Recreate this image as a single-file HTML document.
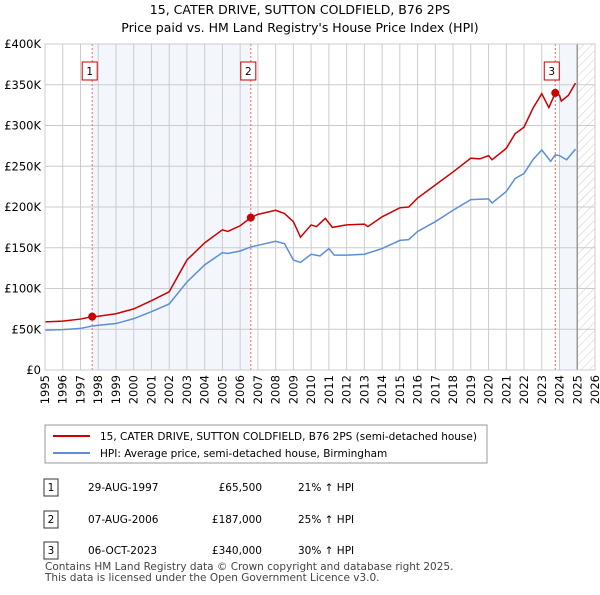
<!DOCTYPE html>
<html><head><meta charset="utf-8"><style>
body{margin:0;background:#fff;font-family:"Liberation Sans",sans-serif;}
svg text{font-family:"DejaVu Sans","Liberation Sans",sans-serif;}
</style></head><body>
<svg id="c" width="600" height="590" xmlns="http://www.w3.org/2000/svg">
<defs><pattern id="hatch" width="6" height="6" patternUnits="userSpaceOnUse" patternTransform="rotate(45)"><line x1="0" y1="0" x2="0" y2="6" stroke="#ccc" stroke-width="1"/></pattern></defs>
<text x="300" y="14" text-anchor="middle" font-size="12.5">15, CATER DRIVE, SUTTON COLDFIELD, B76 2PS</text>
<text x="300" y="32" text-anchor="middle" font-size="12.5">Price paid vs. HM Land Registry's House Price Index (HPI)</text>
<g id="plot"></g>
<g>
<rect x="45" y="425" width="442" height="38" fill="#fff" stroke="#999"/>
<line x1="53" y1="436" x2="90" y2="436" stroke="#cc0000" stroke-width="2"/>
<text x="100" y="440" font-size="10.5">15, CATER DRIVE, SUTTON COLDFIELD, B76 2PS (semi-detached house)</text>
<line x1="53" y1="453" x2="90" y2="453" stroke="#5b8fd6" stroke-width="2"/>
<text x="100" y="457" font-size="10.5">HPI: Average price, semi-detached house, Birmingham</text>
</g>
<g font-size="10.5">
<rect x="44" y="479" width="14" height="17" fill="#fff" stroke="#333"/><text x="51" y="491" text-anchor="middle">1</text>
<text x="88" y="491">29-AUG-1997</text><text x="262" y="491" text-anchor="end">£65,500</text><text x="298" y="491">21% ↑ HPI</text>
<rect x="44" y="511" width="14" height="17" fill="#fff" stroke="#333"/><text x="51" y="523" text-anchor="middle">2</text>
<text x="88" y="523">07-AUG-2006</text><text x="262" y="523" text-anchor="end">£187,000</text><text x="298" y="523">25% ↑ HPI</text>
<rect x="44" y="542" width="14" height="17" fill="#fff" stroke="#333"/><text x="51" y="554" text-anchor="middle">3</text>
<text x="88" y="554">06-OCT-2023</text><text x="262" y="554" text-anchor="end">£340,000</text><text x="298" y="554">30% ↑ HPI</text>
</g>
<text x="45" y="570" font-size="10.5" fill="#444">Contains HM Land Registry data © Crown copyright and database right 2025.</text>
<text x="45" y="581" font-size="10.5" fill="#444">This data is licensed under the Open Government Licence v3.0.</text>
</svg>
<script>
const hpiYears=[1995,1996,1997,1997.66,1998.5,1999,2000,2001,2002,2003,2004,2005,2005.3,2006,2006.6,2007,2008,2008.5,2009,2009.4,2010,2010.5,2011,2011.3,2012,2013,2014,2015,2015.5,2016,2017,2018,2019,2020,2020.2,2021,2021.5,2022,2022.5,2023,2023.5,2023.76,2024,2024.4,2024.9];
const hpiValues=[49000,49500,51000,54000,56000,57000,63000,71500,81000,108000,129000,144000,143000,146000,151000,153000,158000,155000,135000,132000,142000,140000,149000,141000,141000,142000,149000,159000,160000,170000,182000,196000,209000,210000,205000,219000,235000,241000,258000,270000,256000,264000,263000,258000,271000];
const priceYears=[1995,1996,1997,1997.66,1998,1999,2000,2001,2002,2003,2004,2005,2005.3,2006,2006.6,2007,2008,2008.5,2009,2009.4,2010,2010.3,2010.8,2011.2,2012,2013,2013.2,2014,2015,2015.5,2016,2017,2018,2019,2019.5,2020,2020.2,2021,2021.5,2022,2022.5,2023,2023.4,2023.76,2024,2024.1,2024.5,2024.9];
const priceValues=[59000,60000,62500,65500,66000,69000,75000,85000,96000,135000,156000,172000,170000,177000,187000,191000,196000,192000,182000,163000,178000,176000,186000,175000,178000,179000,176000,188000,199000,200000,211000,227000,243000,260000,259000,263000,258000,272000,290000,298000,321000,339000,322000,340000,337000,330000,337000,352000];
const saleYears=[1997.66,2006.6,2023.76];
const saleValues=[65500,187000,340000];
const saleLabels=["1","2","3"];
const yTicks=[0,50000,100000,150000,200000,250000,300000,350000,400000];
const yTickLabels=["£0","£50K","£100K","£150K","£200K","£250K","£300K","£350K","£400K"];
const xTicks=[1995,1996,1997,1998,1999,2000,2001,2002,2003,2004,2005,2006,2007,2008,2009,2010,2011,2012,2013,2014,2015,2016,2017,2018,2019,2020,2021,2022,2023,2024,2025,2026];
const X0=45,X1=595,Y0=370,Y1=44;
const xs=y=>X0+(y-1995)/(2026-1995)*(X1-X0);
const ys=v=>Y0-v/400000*(Y0-Y1);
const NS="http://www.w3.org/2000/svg";
const g=document.getElementById('plot');
function mk(t,a){const e=document.createElementNS(NS,t);for(const k in a)e.setAttribute(k,a[k]);g.appendChild(e);return e;}
let e;
e=mk('rect',{x:xs(saleYears[0]),y:Y1,width:xs(saleYears[1])-xs(saleYears[0]),height:Y0-Y1,fill:'#f3f6fd'});


e=mk('rect',{x:xs(2024),y:Y1,width:xs(2025)-xs(2024),height:Y0-Y1,fill:'#f3f6fd'});


e=mk('rect',{x:xs(2025),y:Y1,width:X1-xs(2025),height:Y0-Y1,fill:'url(#hatch)'});


yTicks.forEach((v,i)=>{
 e=mk('line',{x1:X0,x2:X1,y1:ys(v),y2:ys(v),stroke:'#ccc'});
 
 
 e=mk('text',{x:X0-4,y:ys(v)+4,'text-anchor':'end','font-size':'11.5'});e.textContent=yTickLabels[i];
 
 
});
xTicks.forEach(v=>{
 e=mk('line',{x1:xs(v),x2:xs(v),y1:Y1,y2:Y0,stroke:'#ccc'});
 
 
 const tx=xs(v)+4, ty=375;
 e=mk('text',{x:tx,y:ty,'text-anchor':'end','font-size':'11.5',transform:'rotate(-90 '+tx+' '+ty+')'});e.textContent=v;
 
 
});
e=mk('line',{x1:xs(2025),x2:xs(2025),y1:Y1,y2:Y0,stroke:'#999','stroke-width':1.5});


saleYears.forEach((s,i)=>{
 e=mk('line',{x1:xs(s),x2:xs(s),y1:Y1,y2:Y0,stroke:'#e66','stroke-dasharray':'2,2'});
 
 
 e=mk('rect',{x:xs(s)-7-(i==2?4:3),y:62,width:15,height:18,fill:'#fff',stroke:'#c00'});
 
 
 e=mk('text',{x:xs(s)-(i==2?4:3)+0.5,y:75,'text-anchor':'middle','font-size':'10.5'});e.textContent=saleLabels[i];
 
 
});
e=mk('polyline',{points:hpiYears.map((y,i)=>xs(y)+','+ys(hpiValues[i])).join(' '),fill:'none',stroke:'#5b8fd6','stroke-width':1.5});


e=mk('polyline',{points:priceYears.map((y,i)=>xs(y)+','+ys(priceValues[i])).join(' '),fill:'none',stroke:'#cc0000','stroke-width':1.5});


saleYears.forEach((s,i)=>{
 e=mk('circle',{cx:xs(s),cy:ys(saleValues[i]),r:4,fill:'#cc0000'});
 
 
});
e=mk('rect',{x:X0,y:Y1,width:X1-X0,height:Y0-Y1,fill:'none',stroke:'#ccc'});


</script>
</body></html>
